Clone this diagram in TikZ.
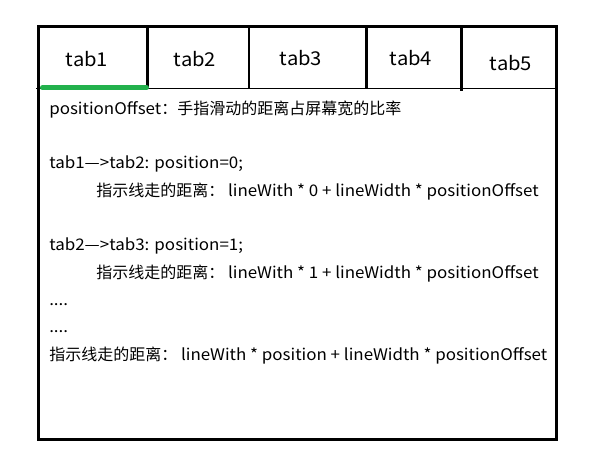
\documentclass[tikz,border=0pt]{standalone}
\usepackage{fontspec}
\setmainfont{Noto Sans CJK SC}[FakeStretch=1.06]
\newfontfamily\cjk{Noto Sans CJK SC}
\usetikzlibrary{calc}
\definecolor{indicatorG}{HTML}{22B14C}
\tikzstyle{frame}=[line width=2pt]
\tikzstyle{tablabel}=[anchor=base, inner sep=0pt, font=\fontsize{14.3}{16}\selectfont]
\tikzstyle{note}=[anchor=base west, inner sep=0pt, font=\fontsize{12}{14}\selectfont]
\newcommand{\distlabel}{{\cjk 指示线走的距离：}}

\begin{document}
\begin{tikzpicture}[x=0.75pt, y=-0.75pt]
	\useasboundingbox (0,0) rectangle (600,460);
	% Outer frame and tab bar
	\draw[frame] (38.3,26.2) rectangle (556.3,439.7);
	\draw[line width=0.75pt] (36,88.7) -- (556.3,88.7);
	\foreach \x in {147.3, 249, 366.5}{ \draw[frame] (\x,26.2) -- (\x,88.7); }
	\draw[frame] (461.3,26.2) -- (461.3,90.7);

	% Indicator line under the selected tab
	\draw[indicatorG, line width=3.4pt, line cap=round] (42.3,87.7) -- (146.7,87.7);

	\node[tablabel] (tab1) at ( 87,67) {tab1};
	\node[tablabel] (tab2) at (195,67) {tab2};
	\node[tablabel] (tab3) at (301,65) {tab3};
	\node[tablabel] (tab4) at (411,66) {tab4};
	\node[tablabel] (tab5) at (511,71) {tab5};

	% Notes
	\node[note] (offset) at (49,114) {positionOffset{\cjk ：手指滑动的距离占屏幕宽的比率}};
	\node[note] (move12) at (49,168.6) {tab1—>tab2: position=0;};
	\node[note] (dist0)  at (96,196) {\distlabel{} lineWith * 0 + lineWidth * positionOffset};
	\node[note] (move23) at (49,250.5) {tab2—>tab3: position=1;};
	\node[note] (dist1)  at (96,278) {\distlabel{} lineWith * 1 + lineWidth * positionOffset};
	\node[note] (dotsA)  at (49,305) {....};
	\node[note] (dotsB)  at (49,332.5) {....};
	\node[note] (distN)  at (49,360) {\distlabel{} lineWith * position + lineWidth * positionOffset};
\end{tikzpicture}
\end{document}
